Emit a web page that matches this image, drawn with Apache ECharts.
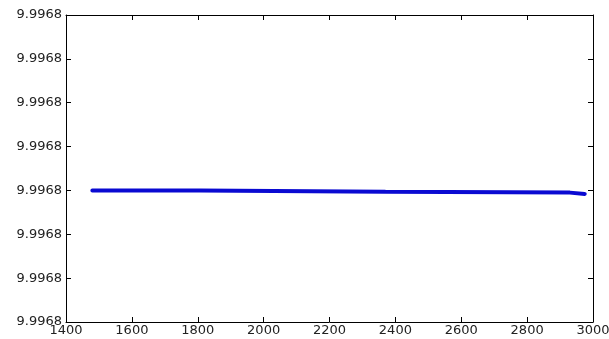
<!DOCTYPE html>
<html>
<head>
<meta charset="utf-8">
<script src="https://cdn.jsdelivr.net/npm/echarts@6/dist/echarts.min.js"></script>
<style>
  html, body { margin: 0; padding: 0; background: #ffffff; }
  #chart { width: 609px; height: 339px; }
</style>
</head>
<body>
<div id="chart"></div>
<script>
// x positions of the step line (sample index)
const xValues = [1480, 1805, 1805, 2370, 2370, 2930, 2930, 2975];
// y values: tiny steps down around 9.996798
const yValues = [9.996798, 9.996798, 9.99679797, 9.99679797, 9.99679795, 9.99679795, 9.99679792, 9.99679792];
const xTicks = [1400, 1600, 1800, 2000, 2200, 2400, 2600, 2800, 3000];
const yMin = 9.996795;
const yMax = 9.996802;

const points = xValues.map((x, i) => [x, yValues[i]]);

const chart = echarts.init(document.getElementById("chart"), null, { renderer: "canvas" });

const labelFont = { color: "#222222", fontFamily: "DejaVu Sans", fontSize: 13 };
const lineStyle = { color: "#000000", width: 1 };

chart.setOption({
  animation: false,
  backgroundColor: "#ffffff",
  grid: { left: 66, right: 16, top: 15, bottom: 17, containLabel: false, outerBoundsMode: "none" },
  xAxis: [
    {
      type: "value",
      min: xTicks[0],
      max: xTicks[xTicks.length - 1],
      interval: 200,
      axisLine: { show: true, lineStyle },
      axisTick: { show: true, inside: true, length: 5, lineStyle },
      axisLabel: Object.assign({
        margin: 2,
        formatter(v) { return String(v); }
      }, labelFont),
      splitLine: { show: false }
    },
    {
      type: "value",
      position: "top",
      min: xTicks[0],
      max: xTicks[xTicks.length - 1],
      interval: 200,
      axisLine: { show: true, lineStyle },
      axisTick: { show: true, inside: true, length: 5, lineStyle },
      axisLabel: { show: false },
      splitLine: { show: false }
    }
  ],
  yAxis: [
    {
      type: "value",
      min: yMin,
      max: yMax,
      interval: 0.000001,
      axisLine: { show: true, lineStyle },
      axisTick: { show: true, inside: true, length: 5, lineStyle },
      axisLabel: Object.assign({
        margin: 4,
        formatter(v) { return v.toFixed(4); }
      }, labelFont),
      splitLine: { show: false }
    },
    {
      type: "value",
      position: "right",
      min: yMin,
      max: yMax,
      interval: 0.000001,
      axisLine: { show: true, lineStyle },
      axisTick: { show: true, inside: true, length: 5, lineStyle },
      axisLabel: { show: false },
      splitLine: { show: false }
    }
  ],
  series: [
    {
      type: "line",
      data: points,
      showSymbol: false,
      lineStyle: { color: "#0a0ad2", width: 4, cap: "round" },
      itemStyle: { color: "#0a0ad2" }
    }
  ]
});
</script>
</body>
</html>
